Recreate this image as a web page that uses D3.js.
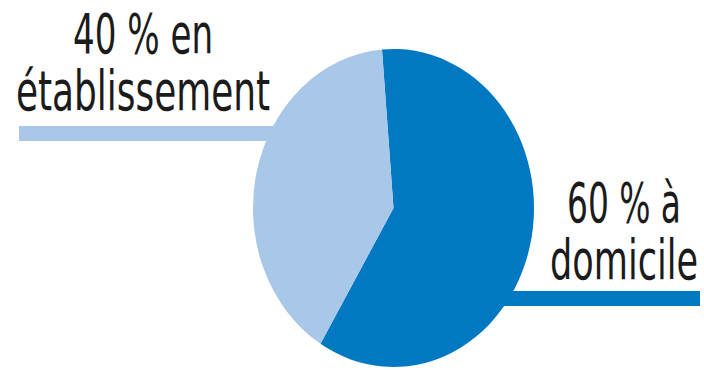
<!DOCTYPE html>
<html>
<head>
<meta charset="utf-8">
<script src="https://cdn.jsdelivr.net/npm/d3@7"></script>
<style>
  body { margin: 0; background: #fff; }
  text { font-family: "Liberation Sans Narrow", "DejaVu Sans Condensed", "Liberation Sans", sans-serif; fill: #1b1b1b; }
</style>
</head>
<body>
<div id="chart"></div>
<script>
// Pie: where people live (share)
var categories = ["à domicile", "en établissement"];
var values = [60, 40];
var labelLines = [["60 % à", "domicile"], ["40 % en", "établissement"]];
var colors = ["#0079c2", "#a9c7e9"];

var width = 704, height = 370;

var svg = d3.select("#chart").append("svg")
    .attr("width", width)
    .attr("height", height);

// ellipse-ish pie, slightly narrower than tall
var cx = 393.5, cy = 208, ry = 159, rx = 140.5;
var start = -0.082;

var pie = d3.pie().sort(null).value(function(d) { return d; })
    .startAngle(start).endAngle(start + 2 * Math.PI);

var arc = d3.arc().innerRadius(0).outerRadius(ry);

// leader bars go under the pie
var leaders = [
    {x1: 450, x2: 700, y: 298.5},
    {x1: 19, x2: 330, y: 133.5}
];

svg.selectAll("line.leader")
    .data(leaders)
    .enter().append("line")
    .attr("class", "leader")
    .attr("x1", function(d) { return d.x1; })
    .attr("x2", function(d) { return d.x2; })
    .attr("y1", function(d) { return d.y; })
    .attr("y2", function(d) { return d.y; })
    .attr("stroke", function(d, i) { return colors[i]; })
    .attr("stroke-width", 15);

var g = svg.append("g")
    .attr("transform", "translate(" + cx + "," + cy + ") scale(" + (rx / ry) + ",1)");

g.selectAll("path")
    .data(pie(values))
    .enter().append("path")
    .attr("d", arc)
    .attr("fill", function(d, i) { return colors[i]; });

// labels, centred blocks
var labelPos = [
    {x: 624, y: [222, 279], w: [114, 148]},
    {x: 143, y: [53, 110], w: [140, 254]}
];

labelLines.forEach(function(lines, i) {
    lines.forEach(function(t, j) {
        svg.append("text")
            .attr("x", labelPos[i].x)
            .attr("y", labelPos[i].y[j])
            .attr("text-anchor", "middle")
            .attr("font-size", 56)
            .attr("textLength", labelPos[i].w[j])
            .attr("lengthAdjust", "spacingAndGlyphs")
            .text(t);
    });
});
</script>
</body>
</html>
